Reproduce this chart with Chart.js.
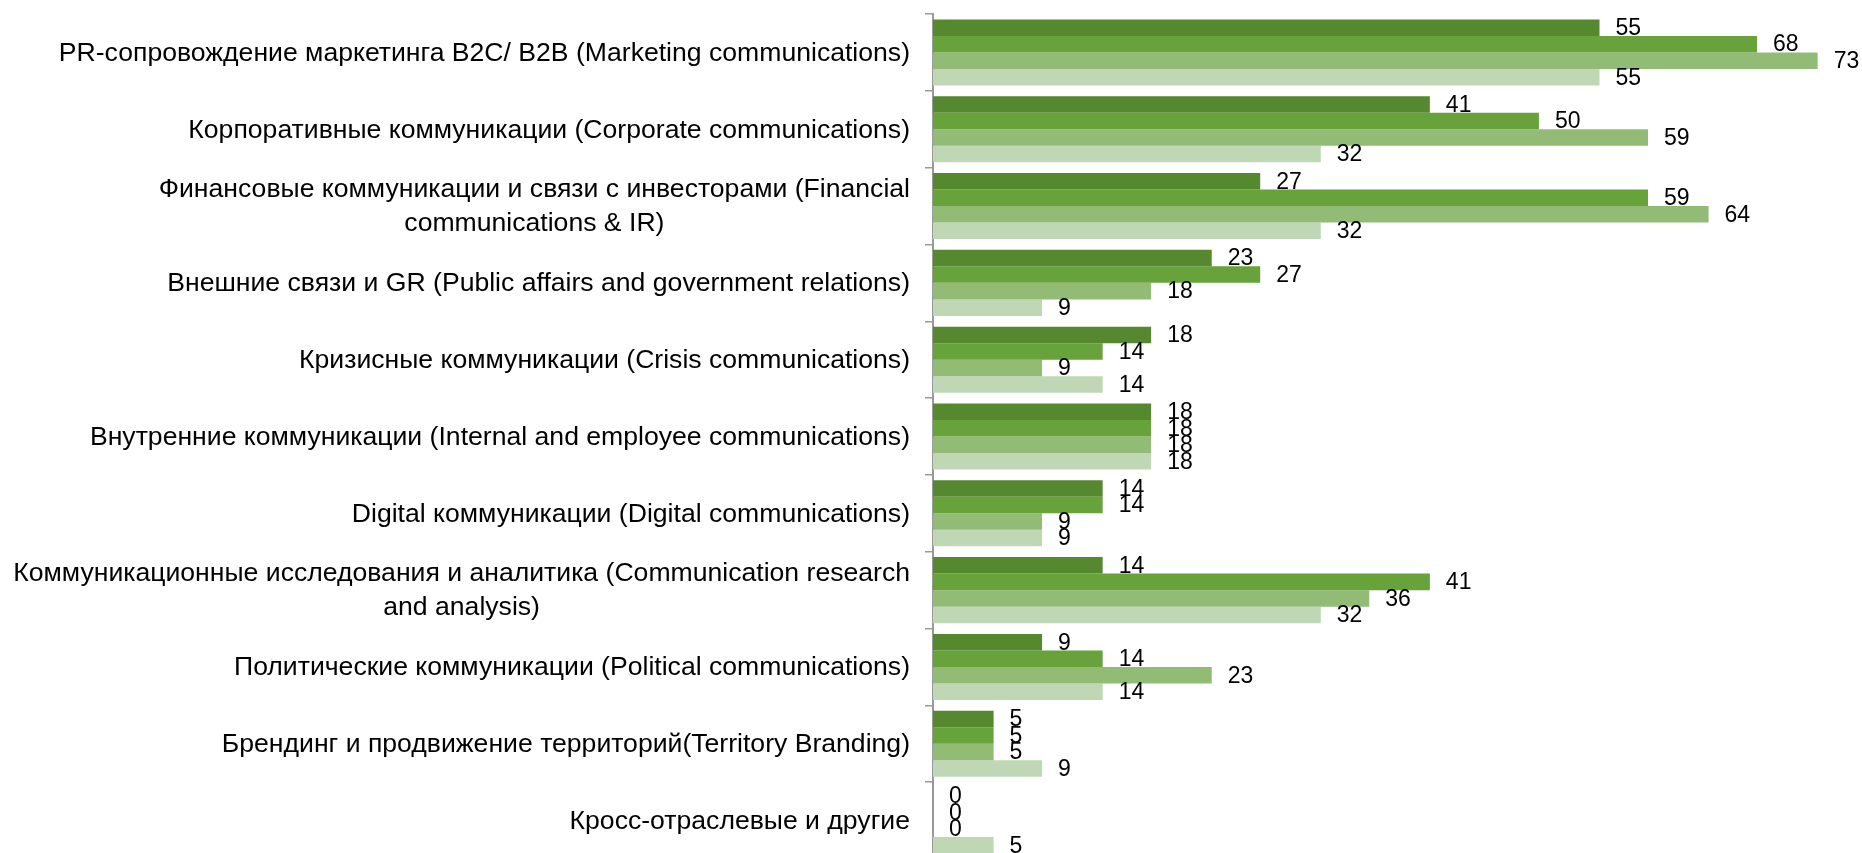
<!DOCTYPE html>
<html>
<head>
<meta charset="utf-8">
<script src="https://cdn.jsdelivr.net/npm/chart.js@4"></script>
<style>
  html, body { margin: 0; padding: 0; background: #ffffff; overflow: hidden; }
  #wrap { position: relative; width: 1862px; height: 870px; }
</style>
</head>
<body>
<div id="wrap"><canvas id="chart"></canvas></div>
<script>
// Категории (сверху вниз); многострочные подписи заданы массивами строк
const categories = [
  ['PR-сопровождение маркетинга B2C/ B2B (Marketing communications)'],
  ['Корпоративные коммуникации (Corporate communications)'],
  ['Финансовые коммуникации и связи с инвесторами (Financial', 'communications & IR)'],
  ['Внешние связи и GR (Public affairs and government relations)'],
  ['Кризисные коммуникации (Crisis communications)'],
  ['Внутренние коммуникации (Internal and employee communications)'],
  ['Digital коммуникации (Digital communications)'],
  ['Коммуникационные исследования и аналитика (Communication research', 'and analysis)'],
  ['Политические коммуникации (Political communications)'],
  ['Брендинг и продвижение территорий(Territory Branding)'],
  ['Кросс-отраслевые и другие']
];

// Значения рядов, %
const series1 = [55, 41, 27, 23, 18, 18, 14, 14, 9, 5, 0];
const series2 = [68, 50, 59, 27, 14, 18, 14, 41, 14, 5, 0];
const series3 = [73, 59, 64, 18, 9, 18, 9, 36, 23, 5, 0];
const series4 = [55, 32, 32, 9, 14, 18, 9, 32, 14, 9, 5];

const seriesNames = ['Ряд 1', 'Ряд 2', 'Ряд 3', 'Ряд 4'];
const seriesColors = ['#56892f', '#67a23a', '#92bc75', '#bfd7b4'];

const LABEL_FONT = '26.6px "Liberation Sans", Arial, sans-serif';
const VALUE_FONT = '23px "Liberation Sans", Arial, sans-serif';
const AXIS_LEFT = 933;

// Подписи категорий: строки центрируются внутри блока, прижатого вправо к оси
const categoryLabels = {
  id: 'categoryLabels',
  afterDraw(chart) {
    const ctx = chart.ctx;
    const y = chart.scales.y;
    const right = y.right - 8 - 15;
    const lineH = 34;
    ctx.save();
    ctx.font = LABEL_FONT;
    ctx.fillStyle = '#000000';
    ctx.textAlign = 'center';
    ctx.textBaseline = 'middle';
    categories.forEach((lines, i) => {
      const cy = y.getPixelForValue(i) + 1;
      const w = Math.max(...lines.map(l => ctx.measureText(l).width));
      const cx = right - w / 2;
      const top = cy - (lines.length - 1) * lineH / 2;
      lines.forEach((l, k) => ctx.fillText(l, cx, top + k * lineH));
    });
    ctx.restore();
  }
};

// Значения справа от концов столбцов
const valueLabels = {
  id: 'valueLabels',
  afterDatasetsDraw(chart) {
    const ctx = chart.ctx;
    ctx.save();
    ctx.font = VALUE_FONT;
    ctx.fillStyle = '#000000';
    ctx.textAlign = 'left';
    ctx.textBaseline = 'middle';
    chart.data.datasets.forEach((ds, di) => {
      const meta = chart.getDatasetMeta(di);
      meta.data.forEach((bar, i) => {
        ctx.fillText(String(ds.data[i]), bar.x + 16, bar.y + 1);
      });
    });
    ctx.restore();
  }
};

const seriesData = [series1, series2, series3, series4];

new Chart(document.getElementById('chart'), {
  type: 'bar',
  data: {
    labels: categories.map(c => c.join(' ')),
    datasets: seriesData.map((d, i) => ({
      label: seriesNames[i],
      data: d,
      backgroundColor: seriesColors[i],
      borderWidth: 0,
      categoryPercentage: 0.86,
      barPercentage: 1.0
    }))
  },
  options: {
    indexAxis: 'y',
    responsive: true,
    maintainAspectRatio: false,
    animation: false,
    layout: { padding: { top: 14, bottom: 11, left: 0, right: 8 } },
    plugins: {
      legend: { display: false },
      tooltip: { enabled: false }
    },
    scales: {
      x: {
        display: false,
        min: 0,
        max: 76
      },
      y: {
        offset: true,
        grid: {
          offset: true,
          drawOnChartArea: false,
          drawTicks: true,
          tickLength: 8,
          color: '#9a9a9a',
          lineWidth: 1.5
        },
        border: { display: true, color: '#9a9a9a', width: 2 },
        ticks: { display: false },
        afterFit(scale) { scale.width = AXIS_LEFT; }
      }
    }
  },
  plugins: [valueLabels, categoryLabels]
});
</script>
</body>
</html>
